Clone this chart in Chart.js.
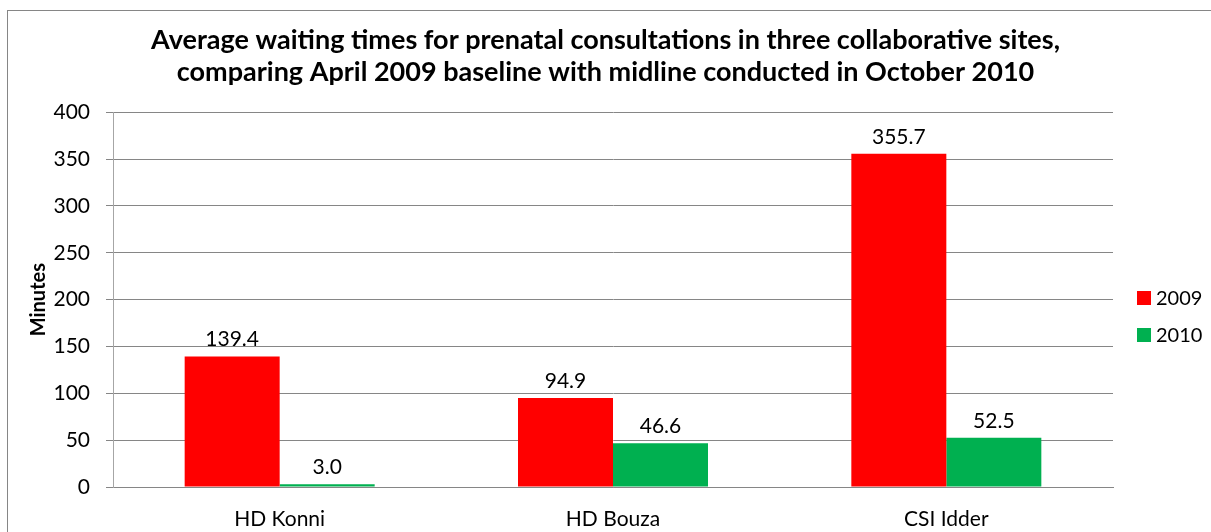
<!DOCTYPE html>
<html>
<head>
<meta charset="utf-8">
<script src="https://cdn.jsdelivr.net/npm/chart.js@4.4.0/dist/chart.umd.min.js"></script>
<style>
  html, body { margin: 0; padding: 0; background: #fff; overflow: hidden; }
  #wrap { position: relative; width: 1211px; height: 532px; }
  #frame { position: absolute; left: 7px; top: 10px; width: 1220px; height: 540px; border: 1px solid #868686; box-sizing: border-box; }
  canvas { position: absolute; left: 0; top: 0; }
</style>
</head>
<body>
<div id="wrap">
  <div id="frame"></div>
  <canvas id="waitChart" width="1211" height="532"></canvas>
</div>
<script>
const sites = ["HD Konni", "HD Bouza", "CSI Idder"];
const years = ["2009", "2010"];
const values2009 = [139.4, 94.9, 355.7];
const values2010 = [3.0, 46.6, 52.5];
const yTicks = [0, 50, 100, 150, 200, 250, 300, 350, 400];
const colors = ["#FF0000", "#00B050"];

const FONT = "Lato, 'Open Sans', sans-serif";

// value labels above each bar
const barLabels = {
  id: "barLabels",
  afterDatasetsDraw(chart) {
    const ctx = chart.ctx;
    ctx.save();
    ctx.font = "21px " + FONT;
    ctx.fillStyle = "#000";
    ctx.textAlign = "center";
    ctx.textBaseline = "alphabetic";
    chart.data.datasets.forEach(function (ds, i) {
      chart.getDatasetMeta(i).data.forEach(function (bar, j) {
        ctx.fillText(ds.data[j].toFixed(1), bar.x, bar.y - 10);
      });
    });
    ctx.restore();
  },
};

// legend on the right, Excel style
const sideLegend = {
  id: "sideLegend",
  afterDraw(chart) {
    const ctx = chart.ctx;
    ctx.save();
    ctx.font = "20px " + FONT;
    ctx.textBaseline = "middle";
    ctx.textAlign = "left";
    chart.data.datasets.forEach(function (ds, i) {
      const y = 298 + i * 37;
      ctx.fillStyle = ds.backgroundColor;
      ctx.fillRect(1137, y - 7, 14, 14);
      ctx.fillStyle = "#000";
      ctx.fillText(ds.label, 1156, y + 1);
    });
    ctx.restore();
  },
};

new Chart(document.getElementById("waitChart").getContext("2d"), {
  type: "bar",
  data: {
    labels: sites,
    datasets: [
      { label: years[0], data: values2009, backgroundColor: colors[0] },
      { label: years[1], data: values2010, backgroundColor: colors[1] },
    ],
  },
  options: {
    responsive: false,
    animation: false,
    layout: { padding: 0 },
    datasets: { bar: { categoryPercentage: 0.57, barPercentage: 1.0 } },
    plugins: {
      legend: { display: false },
      tooltip: { enabled: false },
      title: {
        display: true,
        text: [
          "Average waiting times for prenatal consultations in three collaborative sites,",
          "comparing April 2009 baseline with midline conducted in October 2010",
        ],
        color: "#000",
        font: { family: FONT, size: 27, weight: "bold", lineHeight: 1.19 },
        padding: { top: 24, bottom: 24 },
      },
    },
    scales: {
      x: {
        afterFit(scale) { scale.height = 45; },
        grid: { display: false, drawTicks: false },
        border: { color: "#868686" },
        ticks: { color: "#000", font: { family: FONT, size: 21 }, padding: 20 },
      },
      y: {
        min: 0,
        max: 400,
        afterFit(scale) { scale.width = 113; },
        afterBuildTicks(scale) { scale.ticks = yTicks.map(function (v) { return { value: v }; }); },
        grid: { color: "#868686", tickLength: 7, tickColor: "#868686" },
        border: { color: "#a6a6a6" },
        ticks: { color: "#000", font: { family: FONT, size: 21 }, padding: 16 },
        title: {
          display: true,
          text: "Minutes",
          color: "#000",
          font: { family: FONT, size: 20, weight: "bold" },
          padding: { top: 27, bottom: 0 },
        },
      },
      // empty right axis only reserves room for the legend
      spacer: {
        type: "linear",
        position: "right",
        display: true,
        afterFit(scale) { scale.width = 98; },
        grid: { display: false, drawTicks: false },
        border: { display: false },
        ticks: { display: false },
      },
    },
  },
  plugins: [barLabels, sideLegend],
});
</script>
</body>
</html>
